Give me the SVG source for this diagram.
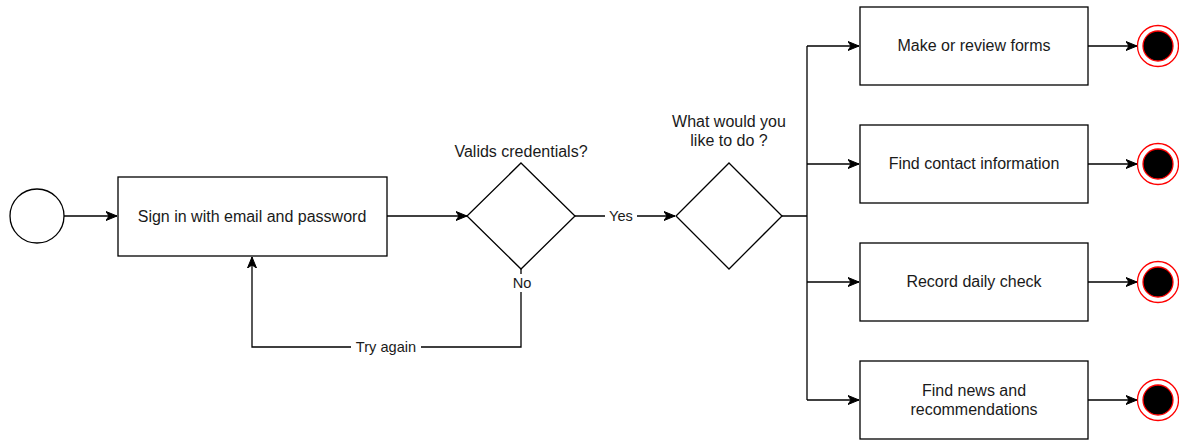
<svg xmlns="http://www.w3.org/2000/svg" width="1179" height="440" viewBox="0 0 1179 440">
<style>
.shape{fill:#fff;stroke:#000;stroke-width:1.3}
.edge{fill:none;stroke:#000;stroke-width:1.3}
.t{font-family:"Liberation Sans",Arial,Helvetica,sans-serif;font-size:16px;fill:#1a1a1a;text-anchor:middle}
.lbl{font-family:"Liberation Sans",Arial,Helvetica,sans-serif;font-size:14.6px;fill:#1a1a1a;text-anchor:middle}
.endo{fill:#fff;stroke:#ff0000;stroke-width:1.3}
.endi{fill:#000;stroke:#ff0000;stroke-width:1.3}
</style>
<defs>
<marker id="arr" markerWidth="12" markerHeight="10" refX="11" refY="5" orient="auto" markerUnits="userSpaceOnUse">
<path d="M0,0.5 L11,5 L0,9.5 L3,5 Z" fill="#000" stroke="#000" stroke-width="1"/>
</marker>
</defs>
<rect width="1179" height="440" fill="#fff"/>
<g id="connectors">
<path class="edge" d="M64,216 L117,216" marker-end="url(#arr)"/>
<path class="edge" d="M387,216 L467,216" marker-end="url(#arr)"/>
<path class="edge" d="M575,216 L675,216" marker-end="url(#arr)"/>
<path class="edge" d="M521,269 L521,347 L252,347 L252,257" marker-end="url(#arr)"/>
<path class="edge" d="M782,216 L807,216 M807,46 L807,400"/>
<path class="edge" d="M807,46 L859,46" marker-end="url(#arr)"/>
<path class="edge" d="M807,164 L859,164" marker-end="url(#arr)"/>
<path class="edge" d="M807,282 L859,282" marker-end="url(#arr)"/>
<path class="edge" d="M807,400 L859,400" marker-end="url(#arr)"/>
<path class="edge" d="M1088,46 L1137,46" marker-end="url(#arr)"/>
<path class="edge" d="M1088,164 L1137,164" marker-end="url(#arr)"/>
<path class="edge" d="M1088,282 L1137,282" marker-end="url(#arr)"/>
<path class="edge" d="M1088,400 L1137,400" marker-end="url(#arr)"/>
<rect x="605" y="207" width="32" height="18" fill="#fff"/>
<text class="lbl" x="621" y="221">Yes</text>
<rect x="510" y="274" width="24" height="18" fill="#fff"/>
<text class="lbl" x="522" y="288">No</text>
<rect x="351" y="338" width="70" height="18" fill="#fff"/>
<text class="lbl" x="386" y="352">Try again</text>
</g>
<g id="start"><circle class="shape" cx="37" cy="216" r="27"/></g>
<g id="signin">
<rect class="shape" x="118" y="177" width="269" height="79"/>
<text class="t" x="252" y="222">Sign in with email and password</text>
</g>
<g id="valid">
<path class="shape" d="M521,163 L575,216 L521,269 L467,216 Z"/>
<text class="t" x="521" y="157">Valids credentials?</text>
</g>
<g id="choice">
<path class="shape" d="M729,163 L782,216 L729,269 L676,216 Z"/>
<text class="t" x="729" y="127">What would you</text>
<text class="t" x="729" y="146">like to do ?</text>
</g>
<g id="forms">
<rect class="shape" x="860" y="7" width="228" height="78"/>
<text class="t" x="974" y="51">Make or review forms</text>
</g>
<g id="contact">
<rect class="shape" x="860" y="125" width="228" height="78"/>
<text class="t" x="974" y="169">Find contact information</text>
</g>
<g id="daily">
<rect class="shape" x="860" y="243" width="228" height="78"/>
<text class="t" x="974" y="287">Record daily check</text>
</g>
<g id="news">
<rect class="shape" x="860" y="361" width="228" height="78"/>
<text class="t" x="974" y="396">Find news and</text>
<text class="t" x="974" y="415">recommendations</text>
</g>
<g id="end1"><circle class="endo" cx="1158" cy="46" r="20.5"/><circle class="endi" cx="1158" cy="46" r="15"/></g>
<g id="end2"><circle class="endo" cx="1158" cy="164" r="20.5"/><circle class="endi" cx="1158" cy="164" r="15"/></g>
<g id="end3"><circle class="endo" cx="1158" cy="282" r="20.5"/><circle class="endi" cx="1158" cy="282" r="15"/></g>
<g id="end4"><circle class="endo" cx="1158" cy="400" r="20.5"/><circle class="endi" cx="1158" cy="400" r="15"/></g>
</svg>
